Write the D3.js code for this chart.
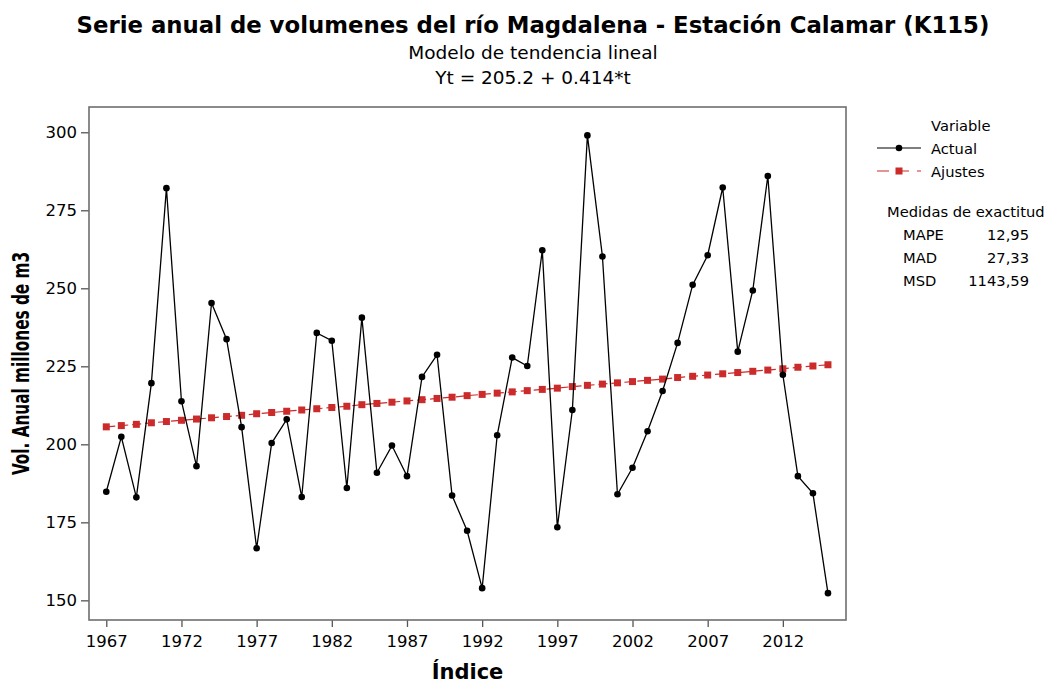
<!DOCTYPE html>
<html>
<head>
<meta charset="utf-8">
<script src="https://cdn.jsdelivr.net/npm/d3@7"></script>
<style>
  body { margin: 0; background: #fff; }
  text { font-family: "DejaVu Sans", sans-serif; fill: #000; }
</style>
</head>
<body>
<script>
// datos: volumen anual (lectura del grafico) y valores ajustados de la tendencia
var years = d3.range(1967, 2016);
var actual = [184.8, 202.4, 183.0, 219.6, 282.1, 213.8, 193.0, 245.3, 233.7, 205.5,
              166.7, 200.4, 208.0, 183.1, 235.7, 233.2, 186.0, 240.6, 190.9, 199.6,
              189.8, 221.6, 228.7, 183.6, 172.3, 153.9, 202.9, 227.8, 225.1, 262.2,
              173.4, 211.0, 299.0, 260.2, 184.0, 192.5, 204.2, 217.1, 232.5, 251.1,
              260.6, 282.3, 229.7, 249.3, 286.0, 222.3, 189.8, 184.3, 152.3];
var ajustes = [205.6, 206.0, 206.4, 206.9, 207.3, 207.7, 208.1, 208.5, 208.9, 209.3,
               209.8, 210.2, 210.6, 211.0, 211.4, 211.8, 212.2, 212.7, 213.1, 213.5,
               213.9, 214.3, 214.7, 215.1, 215.6, 216.0, 216.4, 216.8, 217.2, 217.6,
               218.0, 218.5, 218.9, 219.3, 219.7, 220.1, 220.5, 220.9, 221.4, 221.8,
               222.2, 222.6, 223.0, 223.4, 223.8, 224.2, 224.7, 225.1, 225.5];
var xTicks = [1967, 1972, 1977, 1982, 1987, 1992, 1997, 2002, 2007, 2012];
var yTicks = [150, 175, 200, 225, 250, 275, 300];
var medidas = [["MAPE", "12,95"], ["MAD", "27,33"], ["MSD", "1143,59"]];

// area del grafico
var LEFT = 89, RIGHT = 846, TOP = 107, BOTTOM = 620;
var ROJO = "#cc2b2b";

var svg = d3.select("body").append("svg")
  .attr("width", 1050)
  .attr("height", 684);

var xScale = d3.scaleLinear().domain([1965.85, 2016.2]).range([LEFT, RIGHT]);
var yScale = d3.scaleLinear().domain([143.7, 308.1]).range([BOTTOM, TOP]);

// titulos
svg.append("text")
  .attr("x", 533).attr("y", 33)
  .attr("text-anchor", "middle")
  .style("font-size", "22.8px").style("font-weight", "bold")
  .text("Serie anual de volumenes del río Magdalena - Estación Calamar (K115)");
svg.append("text")
  .attr("x", 533).attr("y", 59)
  .attr("text-anchor", "middle")
  .style("font-size", "18.5px")
  .text("Modelo de tendencia lineal");
svg.append("text")
  .attr("x", 533).attr("y", 84)
  .attr("text-anchor", "middle")
  .style("font-size", "18.5px")
  .text("Yt = 205.2 + 0.414*t");

// ejes
var xAxis = d3.axisBottom(xScale).tickValues(xTicks).tickFormat(d3.format("d")).tickSize(7).tickSizeOuter(0);
var yAxis = d3.axisLeft(yScale).tickValues(yTicks).tickSize(8).tickSizeOuter(0);

var gx = svg.append("g").attr("transform", "translate(0," + BOTTOM + ")").call(xAxis);
var gy = svg.append("g").attr("transform", "translate(" + LEFT + ",0)").call(yAxis);
[gx, gy].forEach(function (g) {
  g.select(".domain").remove();
  g.selectAll(".tick line").attr("stroke", "#555").attr("stroke-width", 1.3);
  g.selectAll(".tick text").style("font-size", "16.5px").style("font-family", "DejaVu Sans").attr("fill", "#000");
});
gx.selectAll(".tick text").attr("dy", "1.05em");
gy.selectAll(".tick text").attr("x", -12);

// marco
svg.append("rect")
  .attr("x", LEFT).attr("y", TOP)
  .attr("width", RIGHT - LEFT).attr("height", BOTTOM - TOP)
  .attr("fill", "none").attr("stroke", "#6e6e6e").attr("stroke-width", 1.6);

// titulos de ejes
svg.append("text")
  .attr("x", (LEFT + RIGHT) / 2).attr("y", 679)
  .attr("text-anchor", "middle")
  .style("font-size", "21px").style("font-weight", "bold")
  .text("Índice");
// el titulo vertical va mas estrecho y mas grueso, como en la imagen
svg.append("text")
  .attr("transform", "translate(29," + ((TOP + BOTTOM) / 2) + ") rotate(-90) scale(1,1.3)")
  .attr("text-anchor", "middle")
  .style("font-family", "DejaVu Sans Condensed")
  .style("font-size", "17px").style("font-weight", "bold")
  .text("Vol. Anual millones de m3");

// linea ajustada
var lineFit = d3.line().x(function (d, i) { return xScale(years[i]); }).y(function (d) { return yScale(d); });
svg.append("path")
  .datum(ajustes)
  .attr("d", lineFit)
  .attr("fill", "none").attr("stroke", ROJO).attr("stroke-width", 1.2)
  .attr("stroke-dasharray", "9,4");
svg.append("g").selectAll("rect").data(ajustes).enter().append("rect")
  .attr("x", function (d, i) { return xScale(years[i]) - 3.5; })
  .attr("y", function (d) { return yScale(d) - 3.5; })
  .attr("width", 7).attr("height", 7)
  .attr("fill", ROJO);

// serie actual
var lineAct = d3.line().x(function (d, i) { return xScale(years[i]); }).y(function (d) { return yScale(d); });
svg.append("path")
  .datum(actual)
  .attr("d", lineAct)
  .attr("fill", "none").attr("stroke", "#000").attr("stroke-width", 1.3);
svg.append("g").selectAll("circle").data(actual).enter().append("circle")
  .attr("cx", function (d, i) { return xScale(years[i]); })
  .attr("cy", function (d) { return yScale(d); })
  .attr("r", 3.3)
  .attr("fill", "#000");

// leyenda
var leg = svg.append("g");
leg.append("text").attr("x", 931).attr("y", 131).style("font-size", "14.7px").text("Variable");
leg.append("line").attr("x1", 877).attr("x2", 921).attr("y1", 148).attr("y2", 148)
  .attr("stroke", "#000").attr("stroke-width", 1.2);
leg.append("circle").attr("cx", 899).attr("cy", 148).attr("r", 3.3).attr("fill", "#000");
leg.append("text").attr("x", 931).attr("y", 154).style("font-size", "14.7px").text("Actual");
leg.append("line").attr("x1", 877).attr("x2", 921).attr("y1", 171).attr("y2", 171)
  .attr("stroke", ROJO).attr("stroke-width", 1.2).attr("stroke-dasharray", "12,8");
leg.append("rect").attr("x", 895.5).attr("y", 167.5).attr("width", 7).attr("height", 7).attr("fill", ROJO);
leg.append("text").attr("x", 931).attr("y", 177).style("font-size", "14.7px").text("Ajustes");

leg.append("text").attr("x", 887).attr("y", 217).style("font-size", "14.7px").text("Medidas de exactitud");
medidas.forEach(function (m, i) {
  leg.append("text").attr("x", 903).attr("y", 240 + i * 23).style("font-size", "14.7px").text(m[0]);
  leg.append("text").attr("x", 1029).attr("y", 240 + i * 23).attr("text-anchor", "end")
    .style("font-size", "14.7px").text(m[1]);
});
</script>
</body>
</html>
